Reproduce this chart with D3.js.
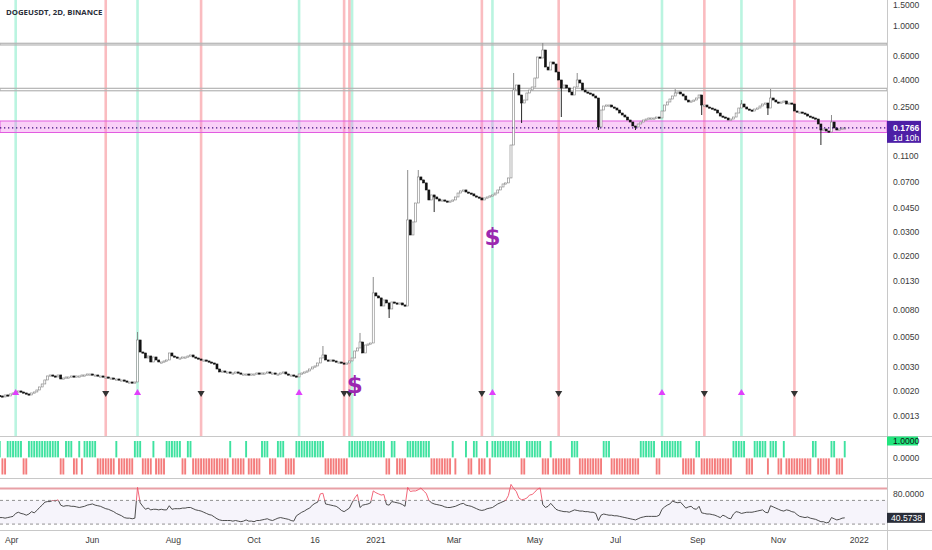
<!DOCTYPE html>
<html><head><meta charset="utf-8">
<script src="https://cdn.jsdelivr.net/npm/d3@7"></script>
<style>body{margin:0;background:#fff}svg{display:block;font-family:"Liberation Sans",Arial,sans-serif}</style>
</head><body><svg id="c" width="932" height="550"></svg>
<script>
// ---------------- DATA ----------------
const title = "DOGEUSDT, 2D, BINANCE";
const startDate = "2020-03-23";
const barDays = 2;
const firstOpen = 0.00185;
const closes = [
0.001837,0.001806,0.001869,0.001837,0.001901,0.001933,0.001966,0.002000,0.001966,0.001933,
0.001901,0.001869,0.001933,0.001966,0.002034,0.002141,0.002253,0.002412,0.002582,0.002626,
0.002582,0.002538,0.002626,0.002453,0.002495,0.002538,0.002538,0.002582,0.002538,0.002582,
0.002582,0.002626,0.002626,0.002671,0.002671,0.002626,0.002626,0.002582,0.002582,0.002538,
0.002538,0.002495,0.002495,0.002453,0.002453,0.002412,0.002412,0.002371,0.002331,0.002331,
0.002292,0.002331,0.004764,0.003884,0.003819,0.003507,0.003629,0.003276,0.003567,0.003390,
0.003276,0.003276,0.003333,0.003390,0.003819,0.003629,0.003567,0.003507,0.003507,0.003567,
0.003567,0.003629,0.003691,0.003567,0.003507,0.003448,0.003390,0.003390,0.003333,0.003276,
0.003221,0.003167,0.002908,0.002764,0.002811,0.002764,0.002764,0.002717,0.002717,0.002764,
0.002717,0.002671,0.002671,0.002671,0.002626,0.002671,0.002671,0.002717,0.002671,0.002717,
0.002717,0.002764,0.002717,0.002717,0.002671,0.002671,0.002717,0.002764,0.002671,0.002626,
0.002626,0.002582,0.002538,0.002671,0.002717,0.002764,0.002811,0.002908,0.003009,0.003061,
0.003221,0.003507,0.003691,0.003390,0.003333,0.003390,0.003333,0.003276,0.003276,0.003221,
0.003167,0.003221,0.003333,0.003507,0.003951,0.004158,0.004605,0.003819,0.004376,0.004451,
0.004527,0.01062,0.01009,0.00975,0.00850,0.00942,0.00895,0.00808,0.00910,0.00895,
0.00880,0.00895,0.00865,0.00850,0.0368,0.02848,0.03554,0.0491,0.0765,0.0727,
0.0691,0.0613,0.0517,0.0563,0.0544,0.0526,0.0508,0.0517,0.0508,0.0500,
0.0508,0.0517,0.0544,0.0582,0.0603,0.0613,0.0592,0.0582,0.0573,0.0554,
0.0544,0.0535,0.0517,0.0535,0.0544,0.0554,0.0563,0.0582,0.0613,0.0645,
0.0679,0.0691,0.0752,0.1318,0.3363,0.3662,0.3089,0.2695,0.2836,0.3196,
0.3363,0.3540,0.4125,0.5899,0.5800,0.6645,0.4975,0.4728,0.5417,0.5236,
0.4569,0.3988,0.3480,0.3662,0.3480,0.3251,0.3089,0.3540,0.3988,0.3789,
0.3363,0.3251,0.3196,0.3142,0.3037,0.2935,0.1791,0.2392,0.2561,0.2605,
0.2605,0.2518,0.2475,0.2392,0.2273,0.2197,0.2123,0.2018,0.1950,0.1822,
0.1791,0.1885,0.1950,0.2018,0.2052,0.2088,0.2088,0.2088,0.2123,0.2088,
0.2352,0.2605,0.2742,0.2885,0.3037,0.3196,0.3251,0.3142,0.3037,0.2836,
0.2742,0.2789,0.2836,0.2935,0.3089,0.2605,0.2605,0.2518,0.2475,0.2433,
0.2392,0.2273,0.2159,0.2123,0.2088,0.2018,0.2052,0.2123,0.2273,0.2475,
0.2650,0.2518,0.2433,0.2392,0.2352,0.2433,0.2475,0.2561,0.2650,0.2695,
0.2475,0.2935,0.2836,0.2742,0.2695,0.2742,0.2789,0.2650,0.2695,0.2650,
0.2352,0.2312,0.2312,0.2273,0.2234,0.2159,0.2123,0.2088,0.2052,0.1885,
0.1702,0.1731,0.1673,0.1645,0.1950,0.1761,0.1702,0.1731,0.1761,0.1766];
// notable wicks: [bar index, high, low]
const wicks = [[52,0.00546,null],[122,0.00430,null],[136,0.00537,null],[141,0.01393,null],
 [147,null,0.00693],[154,0.0861,null],[158,0.0861,null],[164,null,0.0421],[194,0.4492,null],
 [197,null,0.1917],[205,0.7487,null],[212,null,0.2123],[218,0.4492,null],[226,null,0.1702],
 [240,null,0.1702],[255,0.3421,null],[265,null,0.2197],[280,0.2836,null],[290,null,0.2197],
 [291,0.3421,null],[310,null,0.1318],[314,0.2197,null]];
// signal pane: [value, number of bars]
const signalRuns = [[1,1],[-1,2],[1,6],[-1,2],[1,12],[-1,2],[1,3],[-1,2],[1,1],[-1,1],[1,5],[-1,7],
 [1,1],[-1,6],[1,3],[-1,4],[1,1],[-1,4],[1,6],[-1,2],[1,2],[-1,14],[1,1],[-1,5],[1,1],[-1,5],[1,3],
 [-1,3],[1,3],[-1,4],[1,11],[-1,9],[1,14],[-1,2],[1,2],[-1,4],[1,9],[-1,8],[1,1],[-1,1],[0,3],[1,1],
 [-1,2],[1,2],[-1,3],[1,1],[-1,1],[1,11],[-1,2],[1,6],[-1,3],[1,1],[-1,7],[1,3],[-1,9],[1,3],[-1,11],
 [1,6],[-1,2],[1,8],[-1,5],[1,2],[-1,12],[1,5],[-1,3],[1,5],[-1,1],[1,3],[-1,2],[1,1],[-1,10],[1,2],
 [-1,5],[1,2],[-1,3],[1,1]];
const rsi = [
41,41,40,41,42,43,48,50,48,47, 45,47,51,49,53,58,62,67,68,68, 70,69,71,62,60,61,61,60,60,59,
58,59,60,62,63,64,62,61,60,58, 56,55,53,51,48,46,44,41,40,40, 39,40,92,66,60,55,57,54,55,55,
54,55,54,54,61,55,56,56,56,57, 57,58,58,56,54,53,52,50,48,46, 45,42,39,37,36,36,36,36,35,36,
35,34,35,37,35,35,34,36,36,37, 38,39,37,36,38,40,41,40,39,38, 36,35,44,47,50,52,55,57,62,65,
67,81,82,64,63,62,61,60,57,53, 51,54,57,66,74,80,58,62,63,64, 66,86,83,81,79,80,63,62,68,67,
66,65,63,60,92,85,86,86,88,91, 86,82,70,66,64,63,62,61,59,58, 58,59,60,62,64,65,62,61,60,58,
56,54,53,54,56,57,58,61,64,66, 68,70,78,97,90,85,74,71,72,74, 79,80,84,89,91,63,58,60,65,60,
55,53,52,51,51,50,52,54,53,52, 52,51,51,50,50,48,36,45,47,46, 45,45,44,44,43,42,41,40,39,38,
37,39,41,42,43,43,43,43,43,45, 55,59,62,64,69,67,66,67,62,57, 59,60,56,55,60,49,48,47,47,46,
45,43,41,45,43,40,39,47,51,50, 48,49,50,50,50,51,52,53,54,50, 49,61,59,57,55,53,52,54,53,51,
50,46,43,42,41,42,40,39,38,36, 34,34,32,33,41,39,37,38,40,40.5738];
const rsiLevels = {upper:70, lower:30, cap:90, label:80};
const redLines = [40,76,130,132,182,211,266,300];
const greenLines = [6,52,113,133,186,250,280];
const downMarks = [40,76,130,132,182,211,266,300];
const upMarks = [6,52,113,186,250,280];
const dollarMarks = [[134,0.00222],[186,0.0275]];
const grayZones = [[0.724,0.745],[0.332,0.346]];
const pinkZone = [0.1631,0.1984];
const lastPrice = 0.1766, countdown = "1d 10h";
const priceTicks = [1.5,1,0.6,0.4,0.25,0.11,0.07,0.045,0.03,0.02,0.013,0.008,0.005,0.003,0.002,0.0013];
const timeTicks = ["2020-04-01","2020-06-01","2020-08-01","2020-10-01","2020-11-16","2021-01-01","2021-03-01","2021-05-01","2021-07-01","2021-09-01","2021-11-01","2022-01-01"];
const timeLabels = ["Apr","Jun","Aug","Oct","16","2021","Mar","May","Jul","Sep","Nov","2022"];

// ---------------- LAYOUT ----------------
const W = 932, AX = 887;
const P = {top:0, bottom:436}, S = {top:436, bottom:478}, R = {top:478, bottom:530};
const parse = d3.utcParse("%Y-%m-%d");
const t0 = parse(startDate);
const x = d3.scaleUtc().domain([parse("2020-04-01"), parse("2022-01-01")]).range([11.7, 859.3]);
const y = d3.scaleLog().domain([1.557, 0.000929]).range([P.top, P.bottom]);
const ys = d3.scaleLinear().domain([-1,1]).range([474.5,441]);
const yr = d3.scaleLinear().domain([20,107]).range([R.bottom, 478.5]);

const bars = closes.map((c,i)=>{const o = i ? closes[i-1] : firstOpen;
  return {i, date:d3.utcDay.offset(t0, barDays*i), o, c, h:Math.max(o,c), l:Math.min(o,c)};});
wicks.forEach(([i,h,l])=>{ if(h!=null) bars[i].h = Math.max(h,bars[i].h); if(l!=null) bars[i].l = Math.min(l,bars[i].l); });
const signal = [];
signalRuns.forEach(([v,n])=>{ for(let k=0;k<n;k++) signal.push(v); });
const bx = i => x(d3.utcDay.offset(t0, barDays*i));

const svg = d3.select("#c");
svg.append("rect").attr("width",W).attr("height",550).attr("fill","#fff");

// price pane
const gp = svg.append("g");
gp.selectAll(".vr").data(redLines).join("rect").attr("x",d=>bx(d)-1.3).attr("width",2.6)
  .attr("y",P.top).attr("height",P.bottom-P.top).attr("fill","rgba(242,80,90,0.38)");
gp.selectAll(".vg").data(greenLines).join("rect").attr("x",d=>bx(d)-1.3).attr("width",2.6)
  .attr("y",P.top).attr("height",P.bottom-P.top).attr("fill","rgba(40,220,160,0.32)");
grayZones.forEach(([a,b])=>{
  gp.append("rect").attr("x",0).attr("width",AX).attr("y",y(b)).attr("height",y(a)-y(b))
    .attr("fill","none").attr("stroke","#b4b4b4").attr("stroke-width",1.2);
});
gp.append("rect").attr("x",0).attr("width",AX).attr("y",y(pinkZone[1])).attr("height",y(pinkZone[0])-y(pinkZone[1]))
  .attr("fill","rgba(240,120,235,0.35)").attr("stroke","#e25ce0").attr("stroke-width",1);

// candles
const cw = 2.0;
const cg = gp.append("g");
bars.forEach(b=>{
  const up = b.c >= b.o, col = up ? "#808080" : "#111";
  const cx = bx(b.i);
  cg.append("line").attr("x1",cx).attr("x2",cx).attr("y1",y(b.h)).attr("y2",y(b.l)).attr("stroke",col).attr("stroke-width",0.9);
  const top = y(Math.max(b.o,b.c)), bot = y(Math.min(b.o,b.c));
  cg.append("rect").attr("x",cx-cw/2).attr("width",cw).attr("y",top).attr("height",Math.max(1.2,bot-top))
    .attr("fill",up?"#fff":"#111").attr("stroke",col).attr("stroke-width",0.6);
});

// markers
const tri = d3.symbol().type(d3.symbolTriangle).size(22);
gp.selectAll(".dm").data(downMarks).join("path").attr("d",tri)
  .attr("transform",d=>`translate(${bx(d)},393) rotate(180)`).attr("fill","#333");
gp.selectAll(".um").data(upMarks).join("path").attr("d",tri)
  .attr("transform",d=>`translate(${bx(d)},393)`).attr("fill","#e040fb");
gp.selectAll(".dl").data(dollarMarks).join("text").attr("x",d=>bx(d[0])).attr("y",d=>y(d[1]))
  .attr("text-anchor","middle").attr("dominant-baseline","central").attr("font-size",23)
  .attr("font-family","DejaVu Sans").attr("font-weight","bold").attr("fill","#9c27b0").text("$");

// last price line
gp.append("line").attr("x1",0).attr("x2",AX).attr("y1",y(lastPrice)).attr("y2",y(lastPrice))
  .attr("stroke","#3c0c80").attr("stroke-width",1.2).attr("stroke-dasharray","1.3,2.7");

// title
svg.append("text").attr("x",6).attr("y",15).attr("font-size",7.8).attr("font-weight","bold")
  .attr("font-family","Open Sans").attr("fill","#2a2e39").text(title);

// signal pane
svg.selectAll(".sb").data(signal.map((v,i)=>({v,i})).filter(d=>d.v!==0)).join("rect")
  .attr("x",d=>bx(d.i)-0.95).attr("width",1.9)
  .attr("y",d=>d.v>0?ys(1):ys(0)+0.6).attr("height",d=>d.v>0?ys(0)-ys(1)-0.4:ys(-1)-ys(0)-0.6)
  .attr("fill",d=>d.v>0?"#3fe2a0":"#f47c7c");

// RSI pane
svg.append("rect").attr("x",0).attr("width",AX).attr("y",yr(rsiLevels.upper)).attr("height",yr(rsiLevels.lower)-yr(rsiLevels.upper))
  .attr("fill","#f6f4fb");
[rsiLevels.upper, rsiLevels.lower].forEach(v=>{
  svg.append("line").attr("x1",0).attr("x2",AX).attr("y1",yr(v)).attr("y2",yr(v))
    .attr("stroke","#777").attr("stroke-width",0.8).attr("stroke-dasharray","3,3");
});
svg.append("line").attr("x1",0).attr("x2",AX).attr("y1",yr(rsiLevels.cap)).attr("y2",yr(rsiLevels.cap))
  .attr("stroke","#e8a0a6").attr("stroke-width",2);
const rl = d3.line().x((d,i)=>bx(i)).y(d=>yr(d));
svg.append("clipPath").attr("id","below").append("rect").attr("x",0).attr("width",AX).attr("y",yr(rsiLevels.upper)).attr("height",100);
svg.append("clipPath").attr("id","above").append("rect").attr("x",0).attr("width",AX).attr("y",0).attr("height",yr(rsiLevels.upper));
svg.append("path").attr("d",rl(rsi)).attr("fill","none").attr("stroke","#3a3a3a").attr("stroke-width",0.9).attr("clip-path","url(#below)");
svg.append("path").attr("d",rl(rsi)).attr("fill","none").attr("stroke","#f0556a").attr("stroke-width",0.9).attr("clip-path","url(#above)");

// separators
[P.bottom, S.bottom, R.bottom].forEach(v=>{
  svg.append("line").attr("x1",0).attr("x2",W).attr("y1",v+0.5).attr("y2",v+0.5).attr("stroke","#c8c8c8");
});
svg.append("line").attr("x1",AX+0.5).attr("x2",AX+0.5).attr("y1",0).attr("y2",550).attr("stroke","#c8c8c8");

// price axis
const fmt = d3.format(".4f");
const axT = svg.append("g").attr("font-size",8.6).attr("fill","#3a3a3a");
axT.selectAll("text").data(priceTicks).join("text").attr("x",893).attr("y",d=>Math.max(5,y(d)))
  .attr("dominant-baseline","central").text(d=>fmt(d));
svg.append("rect").attr("x",AX).attr("y",y(lastPrice)-7).attr("width",34).attr("height",22).attr("fill","#4d1fa6");
svg.append("text").attr("x",893).attr("y",y(lastPrice)).attr("dominant-baseline","central").attr("font-size",8.6)
  .attr("font-weight","bold").attr("fill","#fff").text(fmt(lastPrice));
svg.append("text").attr("x",893).attr("y",y(lastPrice)+10).attr("dominant-baseline","central").attr("font-size",8.6)
  .attr("fill","#fff").text(countdown);

// signal axis
svg.append("rect").attr("x",AX).attr("y",ys(1)-4.5).attr("width",31).attr("height",9).attr("fill","#22e57e");
svg.append("text").attr("x",893).attr("y",ys(1)).attr("dominant-baseline","central").attr("font-size",8.6).attr("fill","#111").text(fmt(1));
svg.append("text").attr("x",893).attr("y",ys(0)).attr("dominant-baseline","central").attr("font-size",8.6).attr("fill","#3a3a3a").text(fmt(0));

// rsi axis
svg.append("text").attr("x",893).attr("y",yr(rsiLevels.label)).attr("dominant-baseline","central").attr("font-size",8.6).attr("fill","#3a3a3a").text(fmt(rsiLevels.label));
const lastR = rsi[rsi.length-1];
svg.append("rect").attr("x",AX).attr("y",yr(lastR)-5).attr("width",38).attr("height",10).attr("fill","#2a2e39");
svg.append("text").attr("x",891).attr("y",yr(lastR)).attr("dominant-baseline","central").attr("font-size",8.6).attr("fill","#fff").text(fmt(lastR));

// time axis
svg.append("g").attr("font-size",8.6).attr("fill","#3a3a3a").selectAll("text")
  .data(timeTicks.map((d,i)=>({d:parse(d),l:timeLabels[i]}))).join("text")
  .attr("x",d=>x(d.d)).attr("y",540).attr("text-anchor","middle").attr("dominant-baseline","central").text(d=>d.l);
</script></body></html>
